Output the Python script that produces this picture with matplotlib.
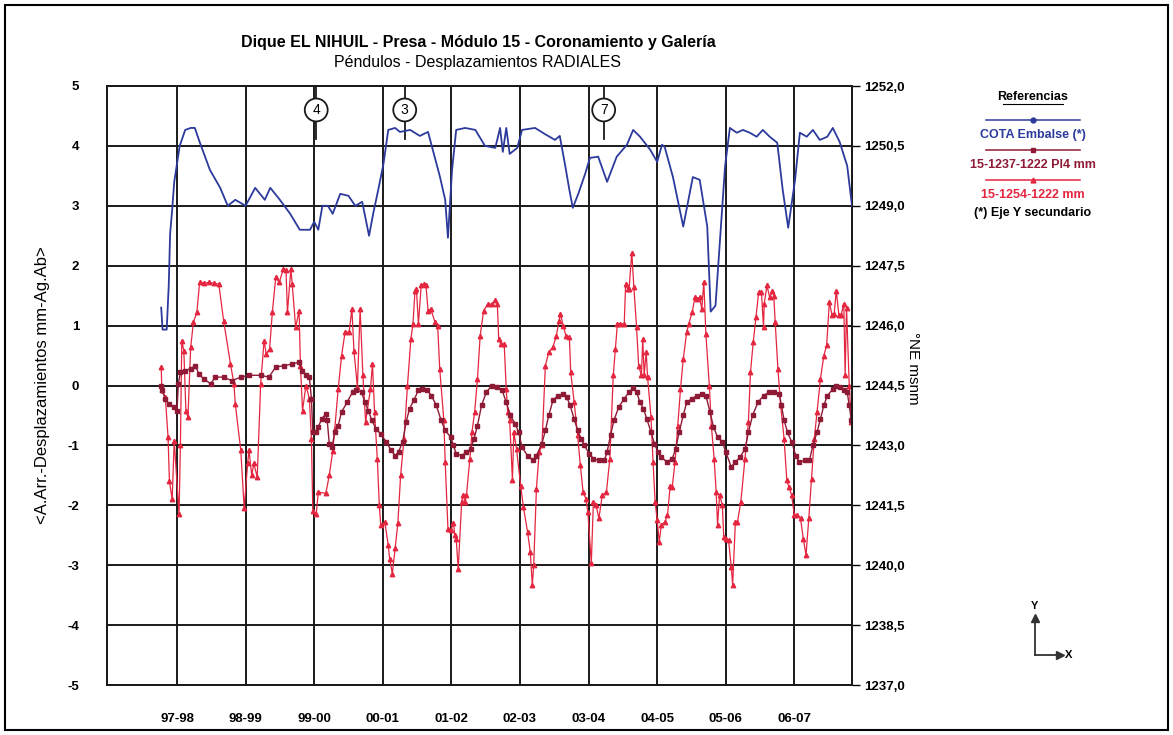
import matplotlib
matplotlib.use("Agg")
import matplotlib.pyplot as plt
from matplotlib.lines import Line2D
from matplotlib.patches import Rectangle

plt.rcParams['font.family'] = ['Liberation Sans', 'DejaVu Sans']
plt.rcParams['axes.unicode_minus'] = False

# x in hydrological-year units: tick k sits at the start of season labels[k]
season_labels = ['97-98', '98-99', '99-00', '00-01', '01-02',
                 '02-03', '03-04', '04-05', '05-06', '06-07']

# COTA Embalse (msnm, secondary axis)
cota_x = [-0.23, -0.21, -0.15, -0.12, -0.10, -0.07, -0.04, 0.04, 0.12, 0.20,
          0.26, 0.33, 0.48, 0.63, 0.74, 0.85, 1.00, 1.14, 1.28, 1.36,
          1.50, 1.65, 1.79, 1.94, 2.00, 2.06, 2.12, 2.20, 2.27, 2.38,
          2.50, 2.60, 2.70, 2.80, 2.86, 2.94, 3.01, 3.08, 3.18, 3.25,
          3.40, 3.54, 3.66, 3.76, 3.83, 3.91, 3.95, 4.01, 4.07, 4.20,
          4.35, 4.49, 4.64, 4.71, 4.75, 4.80, 4.85, 4.96, 5.03, 5.22,
          5.36, 5.51, 5.58, 5.66, 5.72, 5.77, 5.85, 5.95, 6.02, 6.14,
          6.27, 6.41, 6.56, 6.65, 6.75, 6.90, 7.00, 7.07, 7.11, 7.23,
          7.38, 7.52, 7.62, 7.73, 7.78, 7.85, 7.93, 7.99, 8.06, 8.16,
          8.25, 8.35, 8.45, 8.54, 8.64, 8.75, 8.83, 8.91, 9.01, 9.08,
          9.18, 9.27, 9.37, 9.48, 9.56, 9.66, 9.77, 9.84]
cota_y = [1246.45, 1245.9, 1245.9, 1247.0, 1248.3, 1248.9, 1249.6, 1250.5, 1250.9, 1250.95,
          1250.95, 1250.6, 1249.9, 1249.45, 1249.0, 1249.15, 1249.0, 1249.45, 1249.15, 1249.45,
          1249.15, 1248.8, 1248.4, 1248.4, 1248.6, 1248.4, 1249.0, 1249.0, 1248.8, 1249.3,
          1249.25, 1249.0, 1249.1, 1248.25, 1248.8, 1249.45, 1250.05, 1250.9, 1250.95, 1250.85,
          1250.9, 1250.75, 1250.85, 1250.2, 1249.75, 1249.15, 1248.2, 1249.9, 1250.9, 1250.95,
          1250.9, 1250.5, 1250.45, 1250.95, 1250.35, 1250.95, 1250.3, 1250.45, 1250.9, 1250.95,
          1250.8, 1250.65, 1250.75, 1250.0, 1249.4, 1248.95, 1249.3, 1249.8, 1250.2, 1250.23,
          1249.6, 1250.23, 1250.53, 1250.9, 1250.73, 1250.4, 1250.1, 1250.53, 1250.47, 1249.72,
          1248.48, 1249.72, 1249.65, 1248.48, 1246.35, 1246.5, 1248.5, 1250.0, 1250.95, 1250.83,
          1250.9, 1250.83, 1250.73, 1250.9, 1250.73, 1250.58, 1249.4, 1248.45, 1249.65, 1250.83,
          1250.73, 1250.9, 1250.65, 1250.73, 1250.95, 1250.6, 1250.0, 1249.0]

# 15-1237-1222 Pl4 mm
pl4_x = [-0.24, -0.22, -0.17, -0.12, -0.05, 0.0, 0.02, 0.05, 0.12, 0.20,
         0.27, 0.32, 0.39, 0.49, 0.56, 0.68, 0.80, 0.93, 1.05, 1.22,
         1.34, 1.44, 1.56, 1.68, 1.78, 1.82, 1.88, 1.93, 1.96, 1.98,
         2.03, 2.06, 2.11, 2.17, 2.19, 2.22, 2.26, 2.30, 2.35, 2.40,
         2.48, 2.56, 2.61, 2.69, 2.74, 2.79, 2.84, 2.90, 2.97, 3.05,
         3.12, 3.18, 3.23, 3.29, 3.34, 3.39, 3.45, 3.52, 3.57, 3.65,
         3.71, 3.78, 3.85, 3.91, 3.99, 4.03, 4.07, 4.15, 4.22, 4.28,
         4.33, 4.38, 4.44, 4.51, 4.59, 4.67, 4.74, 4.80, 4.86, 4.93,
         4.98, 5.03, 5.11, 5.19, 5.24, 5.32, 5.37, 5.42, 5.48, 5.55,
         5.63, 5.68, 5.73, 5.79, 5.84, 5.89, 5.94, 6.01, 6.07, 6.15,
         6.23, 6.27, 6.32, 6.37, 6.44, 6.52, 6.59, 6.65, 6.70, 6.75,
         6.80, 6.85, 6.91, 6.96, 7.01, 7.06, 7.14, 7.22, 7.27, 7.32,
         7.38, 7.43, 7.51, 7.58, 7.66, 7.71, 7.77, 7.82, 7.88, 7.95,
         8.00, 8.08, 8.14, 8.21, 8.28, 8.33, 8.39, 8.47, 8.55, 8.63,
         8.70, 8.78, 8.81, 8.85, 8.90, 8.96, 9.02, 9.07, 9.15, 9.22,
         9.27, 9.33, 9.38, 9.43, 9.48, 9.56, 9.61, 9.66, 9.72, 9.77,
         9.80, 9.83]
pl4_y = [0.0, -0.08, -0.22, -0.31, -0.36, -0.42, 0.03, 0.22, 0.25, 0.28,
         0.33, 0.19, 0.11, 0.03, 0.14, 0.14, 0.08, 0.14, 0.17, 0.17,
         0.14, 0.31, 0.33, 0.36, 0.39, 0.25, 0.17, 0.14, -0.22, -0.78,
         -0.78, -0.69, -0.56, -0.47, -0.58, -0.97, -1.03, -0.78, -0.67, -0.44,
         -0.28, -0.11, -0.08, -0.11, -0.28, -0.42, -0.58, -0.72, -0.81, -0.94,
         -1.08, -1.17, -1.11, -0.94, -0.61, -0.39, -0.25, -0.08, -0.06, -0.08,
         -0.17, -0.33, -0.58, -0.75, -0.86, -1.0, -1.14, -1.17, -1.11, -1.06,
         -0.89, -0.67, -0.33, -0.11, 0.0, -0.03, -0.08, -0.28, -0.5, -0.64,
         -0.78, -1.03, -1.17, -1.25, -1.17, -0.97, -0.75, -0.5, -0.25, -0.17,
         -0.14, -0.19, -0.33, -0.56, -0.75, -0.89, -1.0, -1.14, -1.22, -1.25,
         -1.25, -1.11, -0.83, -0.58, -0.36, -0.22, -0.11, -0.04, -0.11, -0.28,
         -0.39, -0.56, -0.78, -0.97, -1.11, -1.19, -1.28, -1.22, -1.06, -0.78,
         -0.5, -0.28, -0.22, -0.17, -0.14, -0.17, -0.44, -0.69, -0.86, -0.94,
         -1.11, -1.36, -1.28, -1.19, -1.06, -0.78, -0.5, -0.28, -0.17, -0.11,
         -0.11, -0.14, -0.33, -0.58, -0.78, -0.94, -1.17, -1.28, -1.25, -1.25,
         -1.0, -0.78, -0.56, -0.33, -0.17, -0.06, 0.0, -0.03, -0.08, -0.11,
         -0.33, -0.58]

# 15-1254-1222 mm
p54_x = [-0.23, -0.22, -0.17, -0.13, -0.11, -0.07, -0.04, 0.03, 0.05, 0.07,
         0.10, 0.13, 0.16, 0.20, 0.24, 0.29, 0.33, 0.39, 0.46, 0.54,
         0.61, 0.68, 0.78, 0.83, 0.85, 0.93, 0.98, 1.03, 1.05, 1.09,
         1.12, 1.17, 1.22, 1.27, 1.30, 1.35, 1.39, 1.44, 1.49, 1.55,
         1.59, 1.61, 1.66, 1.68, 1.73, 1.78, 1.80, 1.83, 1.88, 1.93,
         1.96, 1.98, 2.03, 2.06, 2.17, 2.22, 2.27, 2.30, 2.35, 2.40,
         2.45, 2.51, 2.55, 2.58, 2.63, 2.67, 2.71, 2.75, 2.82, 2.85,
         2.88, 2.92, 2.95, 2.97, 3.03, 3.08, 3.10, 3.14, 3.18, 3.22,
         3.26, 3.31, 3.36, 3.41, 3.44, 3.47, 3.49, 3.52, 3.56, 3.60,
         3.63, 3.66, 3.70, 3.76, 3.80, 3.83, 3.89, 3.91, 3.95, 3.99,
         4.03, 4.05, 4.07, 4.10, 4.15, 4.17, 4.20, 4.22, 4.27, 4.30,
         4.34, 4.38, 4.42, 4.47, 4.53, 4.59, 4.64, 4.67, 4.69, 4.72,
         4.77, 4.80, 4.82, 4.85, 4.89, 4.91, 4.95, 5.01, 5.05, 5.11,
         5.15, 5.18, 5.20, 5.24, 5.28, 5.32, 5.37, 5.42, 5.48, 5.53,
         5.57, 5.59, 5.63, 5.67, 5.72, 5.74, 5.79, 5.84, 5.88, 5.92,
         5.96, 5.99, 6.04, 6.07, 6.11, 6.15, 6.20, 6.26, 6.31, 6.36,
         6.39, 6.42, 6.46, 6.52, 6.54, 6.57, 6.59, 6.63, 6.66, 6.70,
         6.73, 6.77, 6.79, 6.81, 6.84, 6.86, 6.91, 6.94, 6.97, 7.00,
         7.03, 7.06, 7.11, 7.15, 7.19, 7.22, 7.26, 7.30, 7.34, 7.38,
         7.43, 7.46, 7.51, 7.55, 7.58, 7.62, 7.65, 7.68, 7.71, 7.76,
         7.79, 7.83, 7.86, 7.88, 7.91, 7.95, 7.97, 8.01, 8.04, 8.08,
         8.10, 8.14, 8.17, 8.22, 8.28, 8.33, 8.36, 8.40, 8.44, 8.48,
         8.52, 8.55, 8.56, 8.60, 8.64, 8.68, 8.70, 8.72, 8.76, 8.80,
         8.85, 8.89, 8.92, 8.96, 9.00, 9.04, 9.09, 9.13, 9.17, 9.21,
         9.25, 9.29, 9.33, 9.38, 9.43, 9.47, 9.51, 9.55, 9.58, 9.61,
         9.65, 9.68, 9.72, 9.74, 9.76, 9.80, 9.83]
p54_y = [0.31, -0.08, -0.19, -0.86, -1.6, -1.9, -0.92, -2.15, -1.0, 0.75,
         0.58, -0.42, -0.53, 0.64, 1.06, 1.22, 1.72, 1.71, 1.72, 1.71,
         1.69, 1.08, 0.36, 0.03, -0.31, -1.08, -2.05, -1.3, -1.08, -1.5,
         -1.3, -1.53, 0.03, 0.75, 0.53, 0.61, 1.22, 1.81, 1.72, 1.94,
         1.92, 1.22, 1.94, 1.69, 0.97, 1.25, 0.33, -0.42, 0.0, -0.22,
         -0.9, -2.1, -2.15, -1.78, -1.8, -1.5, -1.1, -0.72, -0.06, 0.5,
         0.89, 0.89, 1.28, 0.58, -0.03, 1.28, 0.17, -0.61, -0.06, 0.36,
         -0.44, -1.22, -2.0, -2.33, -2.28, -2.67, -2.89, -3.14, -2.72, -2.3,
         -1.5, -0.89, 0.0, 0.78, 1.03, 1.58, 1.61, 1.03, 1.67, 1.69,
         1.67, 1.25, 1.28, 1.06, 1.0, 0.28, -0.58, -1.28, -2.39, -2.42,
         -2.3, -2.5, -2.56, -3.06, -1.94, -1.83, -1.94, -1.83, -1.22, -0.78,
         -0.44, 0.11, 0.83, 1.25, 1.36, 1.36, 1.42, 1.36, 0.78, 0.69,
         0.69, -0.06, -0.44, -0.58, -1.58, -0.78, -1.06, -1.67, -2.03, -2.44,
         -2.78, -3.33, -3.0, -1.72, -1.11, -1.0, 0.33, 0.56, 0.64, 0.83,
         1.08, 1.19, 1.0, 0.83, 0.81, 0.22, -0.28, -0.83, -1.33, -1.78,
         -1.89, -2.11, -2.97, -1.94, -2.0, -2.22, -1.83, -1.78, -1.22, 0.17,
         0.61, 1.03, 1.03, 1.03, 1.69, 1.61, 1.61, 2.22, 1.64, 0.97,
         0.33, 0.17, 0.78, 0.17, 0.56, 0.14, -0.53, -1.28, -1.94, -2.25,
         -2.61, -2.33, -2.28, -2.17, -1.67, -1.69, -1.28, -0.67, -0.06, 0.44,
         0.89, 1.03, 1.22, 1.47, 1.44, 1.47, 1.28, 1.72, 0.86, 0.0,
         -0.67, -1.22, -1.78, -2.33, -1.83, -2.0, -2.53, -2.56, -2.58, -3.03,
         -3.33, -2.28, -2.28, -1.94, -1.22, -0.61, 0.22, 0.72, 1.14, 1.56,
         1.56, 0.97, 1.36, 1.67, 1.47, 1.58, 1.5, 1.06, 0.28, -0.33,
         -0.89, -1.58, -1.69, -1.83, -2.17, -2.17, -2.22, -2.56, -2.83, -2.22,
         -1.56, -0.89, -0.44, 0.11, 0.5, 0.67, 1.39, 1.17, 1.19, 1.58,
         1.17, 1.17, 1.36, 0.17, 1.3, 0.0, -0.61]

# circled markers on top of the plot
note_x = [2.03, 3.32, 6.22]
note_lbl = ['4', '3', '7']

c_blue = '#2c3a9c'
c_pl4 = '#8e1a36'
c_p54 = '#e42640'

fig = plt.figure(figsize=(11.73, 7.35), dpi=100)
W, H = 1173, 735
ax = fig.add_axes([107 / W, 1 - 685 / H, (852 - 107) / W, (685 - 86) / H])
ax2 = ax.twinx()

ax.plot(pl4_x, pl4_y, color=c_pl4, lw=1.0, marker='s', ms=3, mec=c_pl4, mfc=c_pl4, zorder=4)
ax.plot(p54_x, p54_y, color=c_p54, lw=0.9, marker='^', ms=3.2, mec=c_p54, mfc=c_p54, zorder=3)
ax2.plot(cota_x, cota_y, color=c_blue, lw=1.3, zorder=3)

ax.set_xlim(-1.02, 9.84)
ax.set_ylim(-5, 5)
ax2.set_ylim(1237, 1252)
ax.set_yticks(range(-5, 6))
ax.set_xticks(range(len(season_labels)))
ax.set_xticklabels(season_labels)
ax2.set_yticks([1237 + 1.5 * i for i in range(11)])
ax2.set_yticklabels([f'{1237 + 1.5 * i:.1f}'.replace('.', ',') for i in range(11)])

ax.grid(True, color='#1a1a1a', lw=1.4)
ax.set_axisbelow(True)
ax.tick_params(axis='x', length=0, pad=20, labelsize=9.5)
ax.tick_params(axis='y', length=0, pad=20, labelsize=9.5)
ax2.tick_params(axis='y', length=6, width=1, direction='out', pad=3, labelsize=9.5)
for a in (ax, ax2):
    for lab in a.get_xticklabels() + a.get_yticklabels():
        lab.set_fontweight('bold')
    for s in a.spines.values():
        s.set_linewidth(1.4)
        s.set_color('#1a1a1a')

for xv, t in zip(note_x, note_lbl):
    ax.plot([xv, xv], [5, 4.12], color='#1a1a1a', lw=1.3, zorder=5)
    ax.text(xv, 4.6, t, ha='center', va='center', fontsize=10, zorder=6,
            bbox=dict(boxstyle='circle,pad=0.32', fc='white', ec='#1a1a1a', lw=1.3))

fig.text(478 / W, 1 - 43 / H, 'Dique EL NIHUIL - Presa - Módulo 15 - Coronamiento y Galería',
         ha='center', va='center', fontsize=11.5, fontweight='bold')
fig.text(478 / W, 1 - 62 / H, 'Péndulos - Desplazamientos RADIALES',
         ha='center', va='center', fontsize=11.5)
fig.text(43 / W, 1 - 385 / H, '<A.Arr.-Desplazamientos mm-Ag.Ab>',
         ha='center', va='center', rotation=90, fontsize=12)
fig.text(913 / W, 1 - 368 / H, '°NE msnm',
         ha='center', va='center', rotation=-90, fontsize=11)

# legend block
cx = 1033
fig.text(cx / W, 1 - 97 / H, 'Referencias', ha='center', va='center',
         fontsize=9, fontweight='bold')
fig.add_artist(Line2D([(cx - 30) / W, (cx + 30) / W], [1 - 104 / H, 1 - 104 / H],
                      color='black', lw=0.8))
entries = [(120, 135, c_blue, 'o', 'COTA Embalse (*)'),
           (150, 165, c_pl4, 's', '15-1237-1222 Pl4 mm'),
           (180, 195, c_p54, '^', '15-1254-1222 mm')]
for ly, ty, c, m, name in entries:
    fig.add_artist(Line2D([(cx - 47) / W, (cx + 47) / W], [1 - ly / H, 1 - ly / H],
                          color=c, lw=1.1))
    fig.add_artist(Line2D([cx / W], [1 - ly / H], color=c, marker=m, ms=3.5, lw=0))
    fig.text(cx / W, 1 - ty / H, name, ha='center', va='center', fontsize=9,
             fontweight='bold', color=c)
fig.text(cx / W, 1 - 213 / H, '(*) Eje Y secundario', ha='center', va='center',
         fontsize=9, fontweight='bold')

# little axes icon
ox, oy = 1035, 655
fig.add_artist(Line2D([ox / W, ox / W], [1 - oy / H, 1 - 618 / H], color='#333333', lw=1.3))
fig.add_artist(Line2D([ox / W, 1058 / W], [1 - oy / H, 1 - oy / H], color='#333333', lw=1.3))
fig.add_artist(Line2D([ox / W], [1 - 618 / H], marker='^', ms=6, color='#333333', lw=0))
fig.add_artist(Line2D([1060 / W], [1 - oy / H], marker='>', ms=6, color='#333333', lw=0))
fig.text(ox / W, 1 - 606 / H, 'Y', ha='center', va='center', fontsize=8, fontweight='bold')
fig.text(1069 / W, 1 - oy / H, 'X', ha='center', va='center', fontsize=8, fontweight='bold')

fig.add_artist(Rectangle((5 / W, 5 / H), 1 - 10 / W, 1 - 10 / H, transform=fig.transFigure,
                         fill=False, ec='black', lw=1.5))

fig.savefig('out.png', dpi=100)
